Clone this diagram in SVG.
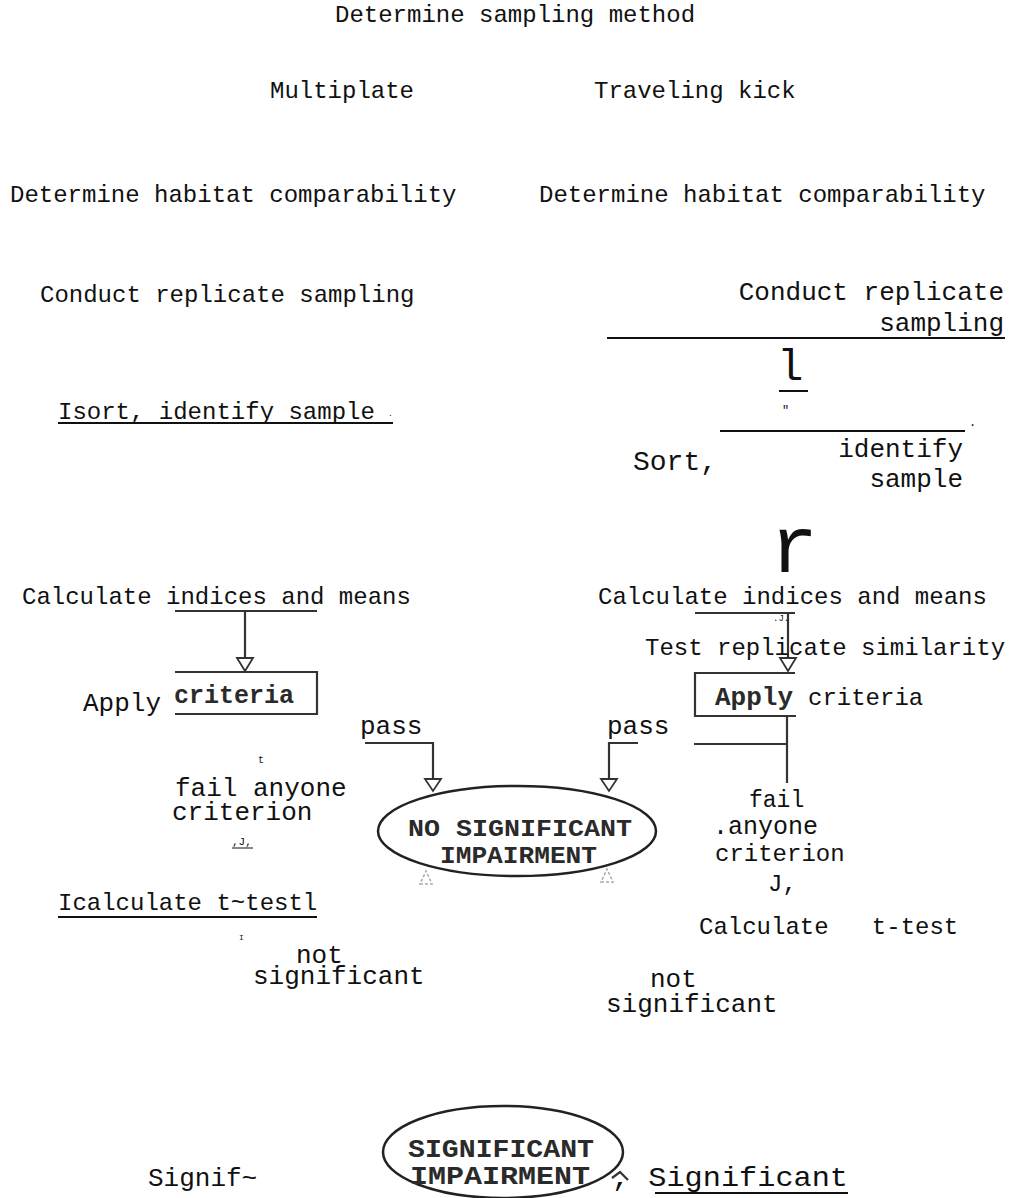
<svg xmlns="http://www.w3.org/2000/svg" width="1013" height="1198" viewBox="0 0 1013 1198">
<style>
text{font-family:"Liberation Mono","DejaVu Sans Mono",monospace;fill:#111;white-space:pre;}
.t24{font-size:24px;}
.t26{font-size:26px;}
.b{font-weight:bold;fill:#2a2a2a;}
.ln{stroke:#111;stroke-width:2;fill:none;}
.sc{stroke:#333;stroke-width:2.2;fill:none;}
.ah{stroke:#333;stroke-width:1.8;fill:#fff;}
.faint{stroke:#aaa;stroke-width:1.5;fill:none;stroke-dasharray:3 2;}
.tiny{font-size:9px;}
</style>
<rect width="1013" height="1198" fill="#fff"/>

<g id="connectors">
  <line class="ln" x1="607" y1="338" x2="1005" y2="338"/>
  <line class="ln" x1="720" y1="431" x2="965" y2="431"/>
  <line class="sc" x1="175" y1="611" x2="317" y2="611"/>
  <line class="sc" x1="245" y1="611" x2="245" y2="658"/>
  <polygon class="ah" points="237,658 253,658 245,671"/>
  <line class="sc" x1="695" y1="613" x2="795" y2="613"/>
  <line class="sc" x1="788" y1="613" x2="788" y2="658"/>
  <polygon class="ah" points="780,658 796,658 788,671"/>
  <line class="sc" x1="787" y1="716" x2="787" y2="783"/>
  <line class="sc" x1="694" y1="744" x2="787" y2="744"/>
  <polyline class="sc" points="365,743 433,743 433,779"/>
  <polygon class="ah" points="425,779 441,779 433,791"/>
  <polyline class="sc" points="638,743 609,743 609,779"/>
  <polygon class="ah" points="601,779 617,779 609,791"/>
  <polygon class="faint" points="420,884 432,884 426,871"/>
  <polygon class="faint" points="601,882 613,882 607,869"/>
  <line class="ln" x1="58" y1="423" x2="393" y2="423"/>
  <line class="ln" x1="58" y1="917" x2="317" y2="917"/>
  <line class="ln" x1="655" y1="1193" x2="848" y2="1193"/>
  <path class="sc" d="M612,1178 L620,1172 L628,1180"/>
</g>

<g id="n-top"><text class="t24" x="335" y="22">Determine sampling method</text></g>
<g id="n-multiplate"><text class="t24" x="270" y="98">Multiplate</text></g>
<g id="n-kick"><text class="t24" x="594" y="98">Traveling kick</text></g>
<g id="n-hab-left"><text class="t24" x="10" y="202">Determine habitat comparability</text></g>
<g id="n-hab-right"><text class="t24" x="539" y="202">Determine habitat comparability</text></g>
<g id="n-rep-left"><text class="t24" x="40" y="302">Conduct replicate sampling</text></g>
<g id="n-rep-right">
  <text class="t26" x="1004" y="300" text-anchor="end">Conduct replicate</text>
  <text class="t26" x="1004" y="331" text-anchor="end">sampling</text>
</g>
<g id="n-l">
  <text x="777" y="380" style="font-size:44px">l</text>
  <line class="ln" x1="779" y1="391" x2="808" y2="391"/>
  <text x="782" y="414" style="font-size:12px">"</text>
  <text x="969" y="426" style="font-size:12px">.</text>
</g>
<g id="n-sort-left">
  <text class="t24" x="58" y="419">Isort, identify sample</text>
  <text x="388" y="416" style="font-size:8px">.</text>
</g>
<g id="n-sort-right">
  <text x="633" y="470" style="font-size:28px">Sort,</text>
  <text class="t26" x="963" y="457" text-anchor="end">identify</text>
  <text class="t26" x="963" y="487" text-anchor="end">sample</text>
</g>
<g id="n-r"><text x="770" y="572" style="font-size:80px">r</text></g>
<g id="n-calc-left"><text class="t24" x="22" y="604">Calculate indices and means</text></g>
<g id="n-calc-right">
  <text class="t24" x="598" y="604">Calculate indices and means</text>
  <text class="tiny" x="773" y="621">.J.</text>
</g>
<g id="n-test"><text class="t24" x="645" y="655">Test replicate similarity</text></g>
<g id="n-apply-left">
  <polyline class="sc" points="175,672 317,672 317,714 175,714"/>
  <text class="b" x="174" y="703" style="font-size:25px">criteria</text>
  <text class="t26" x="83" y="711">Apply</text>
</g>
<g id="n-apply-right">
  <polyline class="sc" points="795,673 695,673 695,716 796,716"/>
  <text class="b" x="715" y="705" style="font-size:26px">Apply</text>
  <text class="t24" x="808" y="705">criteria</text>
</g>
<g id="n-pass-left"><text class="t26" x="360" y="734">pass</text></g>
<g id="n-pass-right"><text class="t26" x="607" y="734">pass</text></g>
<g id="n-nosig">
  <ellipse cx="517" cy="831" rx="139" ry="45" fill="none" stroke="#222" stroke-width="2.5"/>
  <text class="b" x="408" y="836" style="font-size:24px" textLength="224" lengthAdjust="spacingAndGlyphs">NO SIGNIFICANT</text>
  <text class="b" x="440" y="863" style="font-size:24px" textLength="157" lengthAdjust="spacingAndGlyphs">IMPAIRMENT</text>
</g>
<g id="n-fail-left">
  <text x="258" y="763" style="font-size:10px">t</text>
  <text class="t26" x="175" y="796">fail anyone</text>
  <text class="t26" x="172" y="820">criterion</text>
  <text x="232" y="845" style="font-size:11px">,J,</text>
  <line x1="232" y1="848" x2="253" y2="848" stroke="#111" stroke-width="1"/>
</g>
<g id="n-fail-right">
  <text x="749" y="807" style="font-size:23px">fail</text>
  <text x="713" y="834" style="font-size:25px">.anyone</text>
  <text class="t24" x="715" y="861">criterion</text>
  <text class="t24" x="768" y="891">J,</text>
</g>
<g id="n-ttest-left">
  <text class="t24" x="58" y="910">Icalculate t~testl</text>
  <text x="239" y="940" style="font-size:8px">I</text>
</g>
<g id="n-ttest-right"><text class="t24" x="699" y="934" xml:space="preserve">Calculate   t-test</text></g>
<g id="n-ns-left">
  <text class="t26" x="296" y="963">not</text>
  <text class="t26" x="253" y="984">significant</text>
</g>
<g id="n-ns-right">
  <text class="t26" x="650" y="987">not</text>
  <text class="t26" x="606" y="1012">significant</text>
</g>
<g id="n-sig">
  <ellipse cx="503" cy="1152" rx="120" ry="46" fill="none" stroke="#222" stroke-width="2.5"/>
  <text class="b" x="408" y="1157" style="font-size:25px" textLength="186" lengthAdjust="spacingAndGlyphs">SIGNIFICANT</text>
  <text class="b" x="410" y="1184" style="font-size:25px" textLength="180" lengthAdjust="spacingAndGlyphs">IMPAIRMENT</text>
</g>
<g id="n-sig-left"><text class="t26" x="148" y="1186">Signif~</text></g>
<g id="n-sig-right"><text x="612" y="1186" style="font-size:28px" textLength="236" lengthAdjust="spacingAndGlyphs">, Significant</text></g>
</svg>
